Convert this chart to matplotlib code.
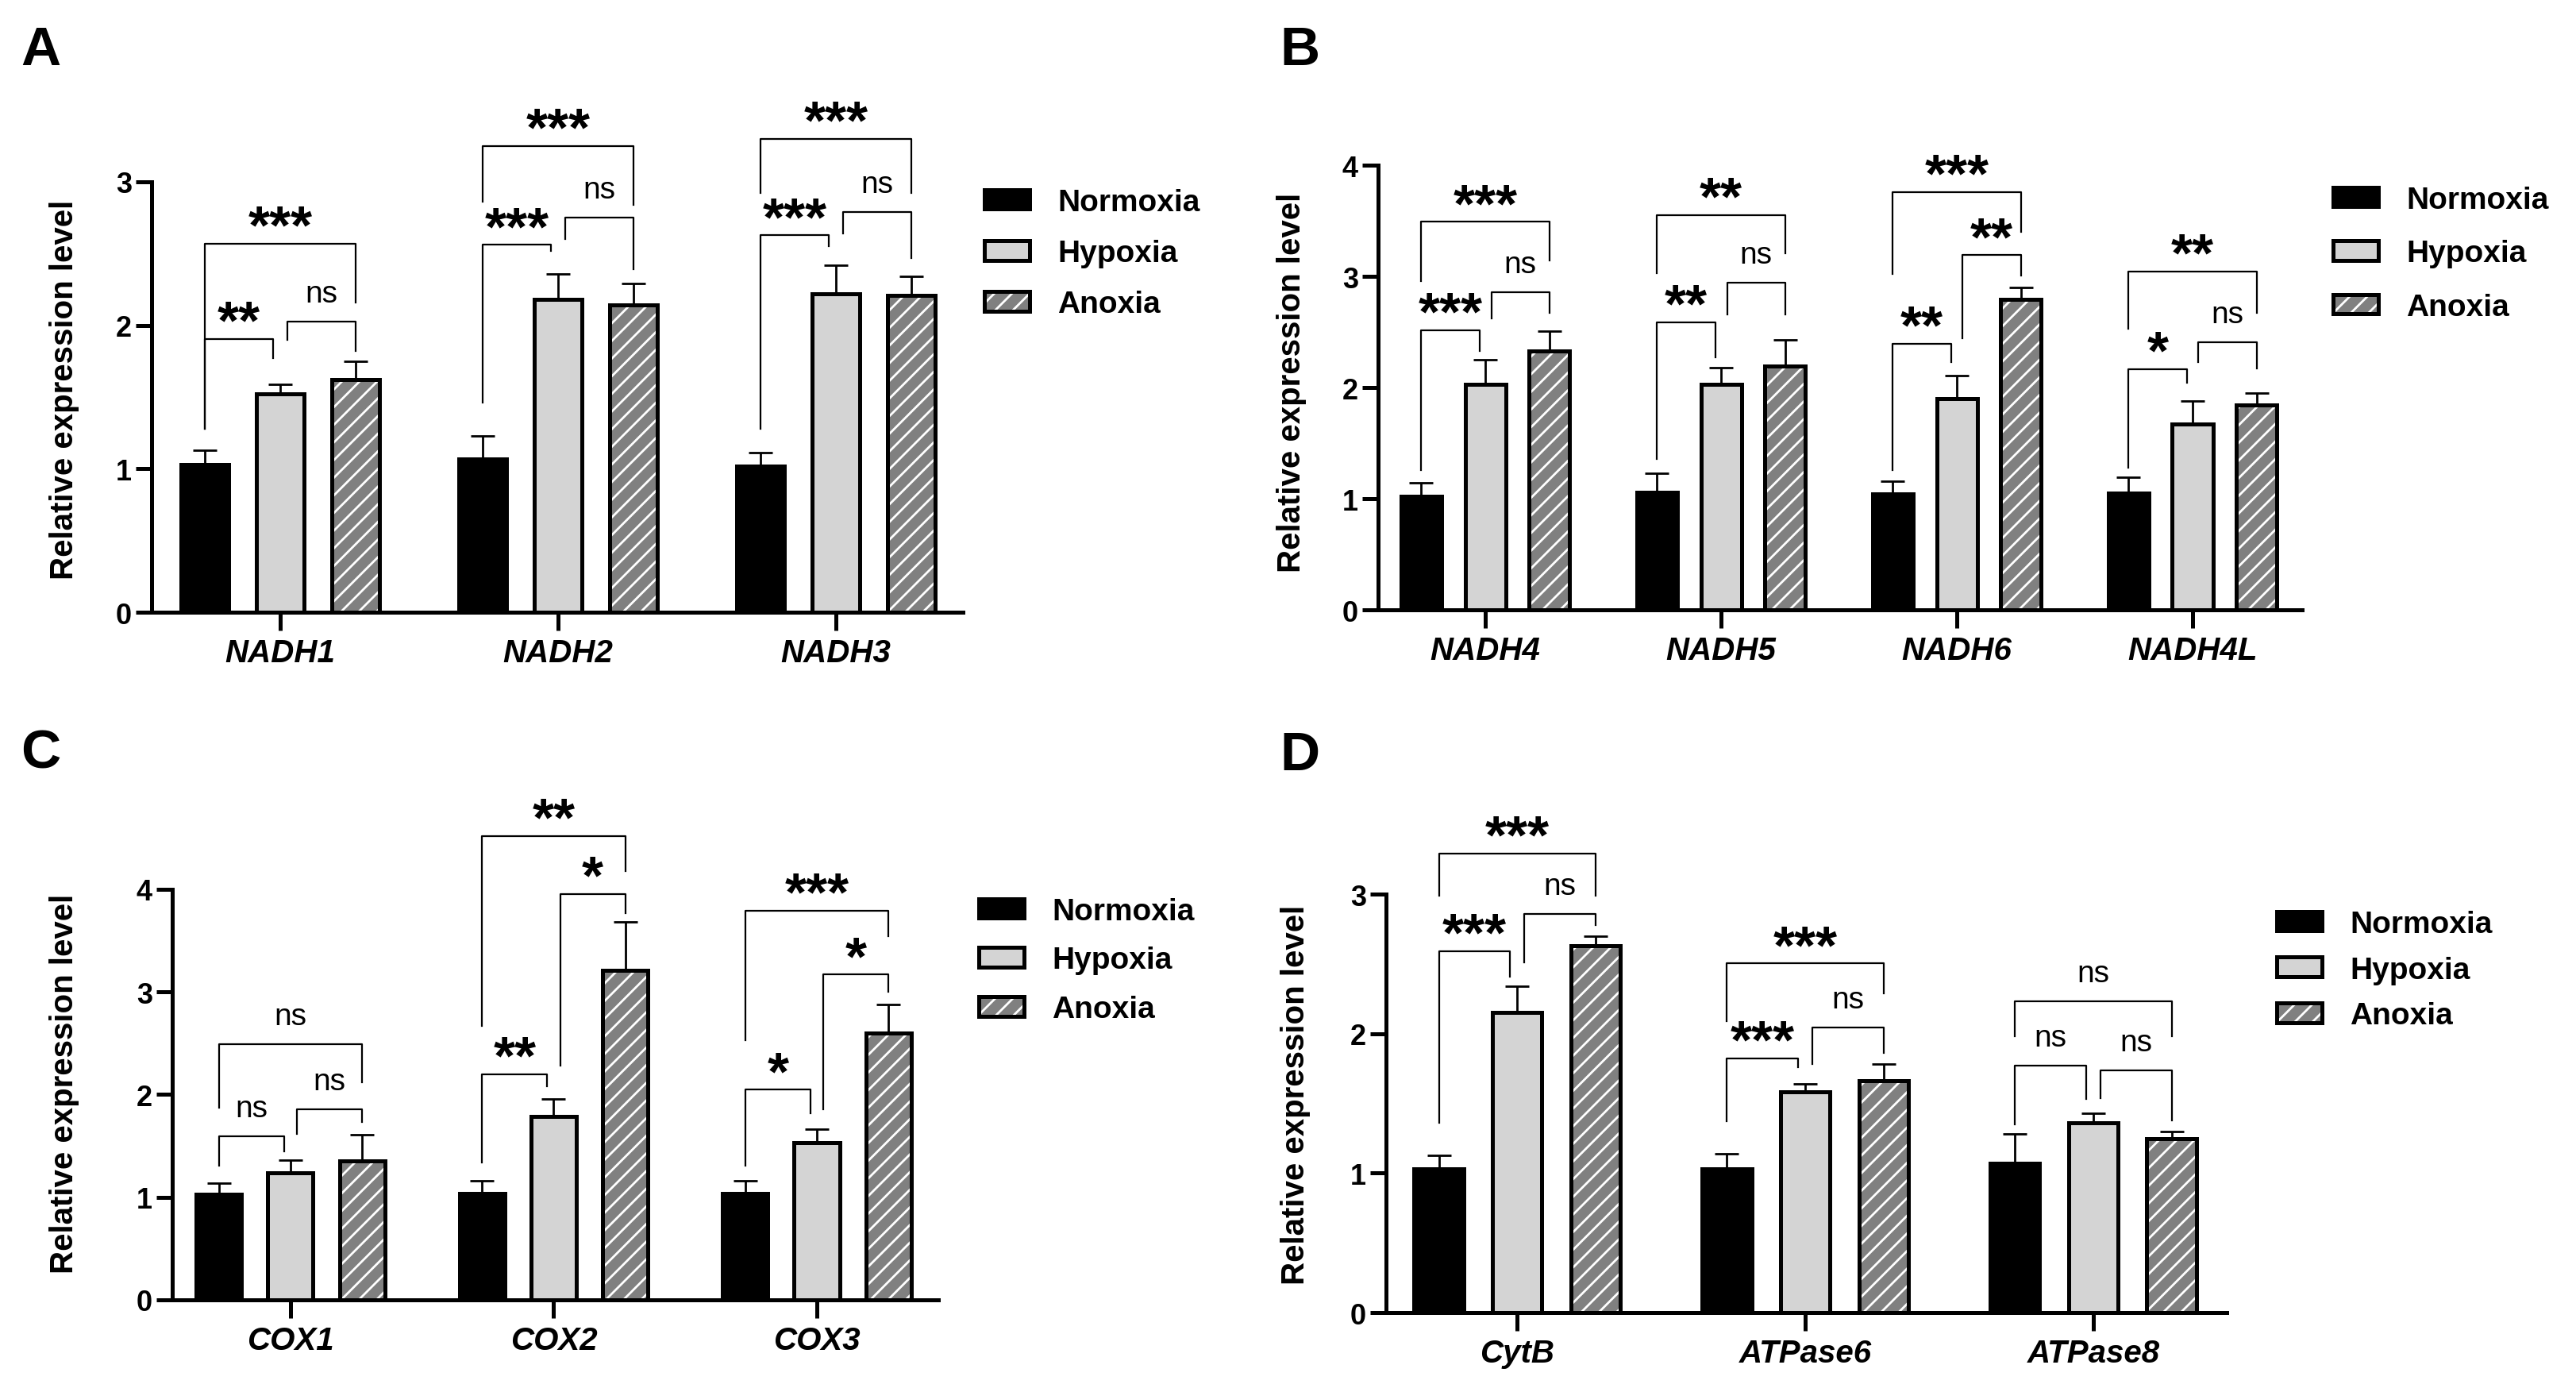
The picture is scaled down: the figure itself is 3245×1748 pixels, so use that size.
import numpy as np
import matplotlib.pyplot as plt
from matplotlib.patches import Patch

plt.rcParams['font.family'] = ['Liberation Sans', 'DejaVu Sans']
plt.rcParams['hatch.color'] = 'white'
plt.rcParams['hatch.linewidth'] = 1.0

conditions = ['Normoxia', 'Hypoxia', 'Anoxia']

# A
genes_a = ['NADH1', 'NADH2', 'NADH3']
norm_a = [1.03, 1.07, 1.02]
hyp_a = [1.52, 2.18, 2.22]
anox_a = [1.62, 2.14, 2.21]
norm_a_sd = [0.10, 0.16, 0.09]
hyp_a_sd = [0.07, 0.18, 0.20]
anox_a_sd = [0.13, 0.15, 0.13]
# gene, bar i, bar j, bracket y, left leg end, right leg end, label
sig_a = [(0, 0, 1, 1.905, 1.28, 1.77, '**'), (0, 1, 2, 2.027, 1.90, 1.82, 'ns'),
         (0, 0, 2, 2.568, 1.28, 2.16, '***'),
         (1, 0, 1, 2.561, 1.46, 2.52, '***'), (1, 1, 2, 2.751, 2.60, 2.39, 'ns'),
         (1, 0, 2, 3.248, 2.86, 2.84, '***'),
         (2, 0, 1, 2.627, 1.28, 2.55, '***'), (2, 1, 2, 2.788, 2.64, 2.47, 'ns'),
         (2, 0, 2, 3.301, 2.92, 2.92, '***')]

# B
genes_b = ['NADH4', 'NADH5', 'NADH6', 'NADH4L']
norm_b = [1.02, 1.06, 1.04, 1.05]
hyp_b = [2.03, 2.03, 1.90, 1.67]
anox_b = [2.33, 2.19, 2.79, 1.84]
norm_b_sd = [0.12, 0.17, 0.12, 0.14]
hyp_b_sd = [0.22, 0.15, 0.21, 0.21]
anox_b_sd = [0.18, 0.24, 0.11, 0.11]
sig_b = [(0, 0, 1, 2.516, 1.26, 2.33, '***'), (0, 1, 2, 2.857, 2.62, 2.67, 'ns'),
         (0, 0, 2, 3.49, 2.96, 3.14, '***'),
         (1, 0, 1, 2.588, 1.36, 2.27, '**'), (1, 1, 2, 2.945, 2.66, 2.66, 'ns'),
         (1, 0, 2, 3.551, 3.03, 3.21, '**'),
         (2, 0, 1, 2.395, 1.26, 2.23, '**'), (2, 1, 2, 3.19, 2.44, 3.01, '**'),
         (2, 0, 2, 3.759, 3.02, 3.40, '***'),
         (3, 0, 1, 2.167, 1.28, 2.04, '*'), (3, 1, 2, 2.407, 2.23, 2.17, 'ns'),
         (3, 0, 2, 3.041, 2.53, 2.67, '**')]

# C
genes_c = ['COX1', 'COX2', 'COX3']
norm_c = [1.03, 1.04, 1.04]
hyp_c = [1.24, 1.79, 1.53]
anox_c = [1.35, 3.21, 2.60]
norm_c_sd = [0.11, 0.12, 0.12]
hyp_c_sd = [0.12, 0.17, 0.13]
anox_c_sd = [0.26, 0.47, 0.28]
sig_c = [(0, 0, 1, 1.595, 1.31, 1.45, 'ns'), (0, 1, 2, 1.853, 1.62, 1.73, 'ns'),
         (0, 0, 2, 2.489, 1.87, 2.12, 'ns'),
         (1, 0, 1, 2.20, 1.34, 2.08, '**'), (1, 1, 2, 3.956, 2.28, 3.77, '*'),
         (1, 0, 2, 4.521, 2.67, 4.18, '**'),
         (2, 0, 1, 2.046, 1.31, 1.82, '*'), (2, 1, 2, 3.168, 1.86, 3.00, '*'),
         (2, 0, 2, 3.79, 2.53, 3.54, '***')]

# D
genes_d = ['CytB', 'ATPase6', 'ATPase8']
norm_d = [1.03, 1.03, 1.07]
hyp_d = [2.15, 1.58, 1.36]
anox_d = [2.63, 1.66, 1.245]
norm_d_sd = [0.10, 0.11, 0.21]
hyp_d_sd = [0.19, 0.06, 0.07]
anox_d_sd = [0.07, 0.12, 0.055]
sig_d = [(0, 0, 1, 2.59, 1.36, 2.41, '***'), (0, 1, 2, 2.858, 2.51, 2.78, 'ns'),
         (0, 0, 2, 3.29, 2.99, 2.99, '***'),
         (1, 0, 1, 1.823, 1.37, 1.76, '***'), (1, 1, 2, 2.042, 1.78, 1.86, 'ns'),
         (1, 0, 2, 2.503, 2.09, 2.29, '***'),
         (2, 0, 1, 1.768, 1.35, 1.53, 'ns'), (2, 1, 2, 1.735, 1.54, 1.38, 'ns'),
         (2, 0, 2, 2.229, 1.98, 1.98, 'ns')]

LIGHT = '#d4d4d4'
GRAY = '#808080'
OFF = 0.272
W = 0.172


def draw_panel(ax, genes, means, sds, sig, ymax, xlim):
    x = np.arange(len(genes))
    for k in range(3):
        xs = x + (k - 1) * OFF
        ax.errorbar(xs, means[k], yerr=[np.zeros(len(genes)), sds[k]], fmt='none',
                    ecolor='k', elinewidth=1.0, capsize=5.4, capthick=1.0, zorder=1)
        if k == 0:
            ax.bar(xs, means[k], W, color='k', edgecolor='k', lw=1.8, zorder=2)
        elif k == 1:
            ax.bar(xs, means[k], W, color=LIGHT, edgecolor='k', lw=1.8, zorder=2)
        else:
            ax.bar(xs, means[k], W, color=GRAY, hatch='///', lw=0, zorder=2)
            ax.bar(xs, means[k], W, fill=False, edgecolor='k', lw=1.8, zorder=3)

    d = 0.025
    for g, i, j, y, lb, rb, lab in sig:
        x1 = g + (i - 1) * OFF
        x2 = g + (j - 1) * OFF
        if j - i == 1:
            if i == 1:
                x1 += d
            else:
                x2 -= d
        ax.plot([x1, x1, x2, x2], [lb, y, y, rb], color='k', lw=0.8, clip_on=False)
        if lab == 'ns':
            ax.annotate(lab, ((x1 + x2) / 2, y), xytext=(0, 9), textcoords='offset points',
                        ha='center', va='baseline', fontsize=14, annotation_clip=False)
        else:
            ax.annotate(lab, ((x1 + x2) / 2, y), xytext=(0, 0.5), textcoords='offset points',
                        ha='center', va='baseline', fontsize=25, fontweight='bold',
                        annotation_clip=False)

    ax.set_xlim(*xlim)
    ax.set_ylim(0, ymax)
    ax.spines[['top', 'right']].set_visible(False)
    ax.spines[['left', 'bottom']].set_linewidth(1.8)
    ax.set_xticks(x, genes, fontsize=14.5, fontweight='bold', fontstyle='italic')
    ax.set_yticks(range(ymax + 1))
    ax.tick_params(axis='y', length=7.2, width=1.8, pad=1.8, labelsize=13)
    ax.tick_params(axis='x', length=8.3, width=1.8, pad=3.2)
    for t in ax.get_yticklabels():
        t.set_fontweight('bold')
    ax.set_ylabel('Relative expression level', fontsize=14.5, fontweight='bold')


def add_legend(ax, fig, anchor, spacing):
    handles = [Patch(facecolor='k', edgecolor='k', lw=1.8),
               Patch(facecolor=LIGHT, edgecolor='k', lw=1.8),
               (Patch(facecolor=GRAY, hatch='///', lw=0),
                Patch(fill=False, edgecolor='k', lw=1.8))]
    ax.legend(handles, conditions, loc='center left', bbox_to_anchor=anchor,
              bbox_transform=fig.transFigure, frameon=False, borderpad=0,
              borderaxespad=0, handlelength=1.47, handleheight=0.6,
              handletextpad=0.9, labelspacing=spacing,
              prop={'size': 14, 'weight': 'bold'})


fig = plt.figure(figsize=(16.225, 8.745), dpi=200)

ax_a = fig.add_axes([0.0589, 0.5586, 0.3149, 0.3099])
ax_b = fig.add_axes([0.5350, 0.5603, 0.3587, 0.3202])
ax_c = fig.add_axes([0.0669, 0.0635, 0.2974, 0.2956])
ax_d = fig.add_axes([0.5381, 0.0543, 0.3263, 0.3013])

draw_panel(ax_a, genes_a, [norm_a, hyp_a, anox_a], [norm_a_sd, hyp_a_sd, anox_a_sd],
           sig_a, 3, (-0.463, 2.457))
draw_panel(ax_b, genes_b, [norm_b, hyp_b, anox_b], [norm_b_sd, hyp_b_sd, anox_b_sd],
           sig_b, 4, (-0.455, 3.465))
draw_panel(ax_c, genes_c, [norm_c, hyp_c, anox_c], [norm_c_sd, hyp_c_sd, anox_c_sd],
           sig_c, 4, (-0.449, 2.462))
draw_panel(ax_d, genes_d, [norm_d, hyp_d, anox_d], [norm_d_sd, hyp_d_sd, anox_d_sd],
           sig_d, 3, (-0.455, 2.463))

ax_a.yaxis.set_label_coords(-0.089, 0.518)
ax_b.yaxis.set_label_coords(-0.0776, 0.5125)
ax_c.yaxis.set_label_coords(-0.121, 0.528)
ax_d.yaxis.set_label_coords(-0.0898, 0.522)

add_legend(ax_a, fig, (0.3821, 0.817), 0.73)
add_legend(ax_b, fig, (0.9057, 0.817), 0.81)
add_legend(ax_c, fig, (0.3800, 0.308), 0.66)
add_legend(ax_d, fig, (0.8838, 0.301), 0.56)

for lab, x, y in [('A', 0.0080, 0.953), ('B', 0.497, 0.953),
                  ('C', 0.0080, 0.447), ('D', 0.497, 0.4453)]:
    fig.text(x, y, lab, fontsize=25, fontweight='bold', va='baseline')

fig.savefig('out.png', dpi=200)
